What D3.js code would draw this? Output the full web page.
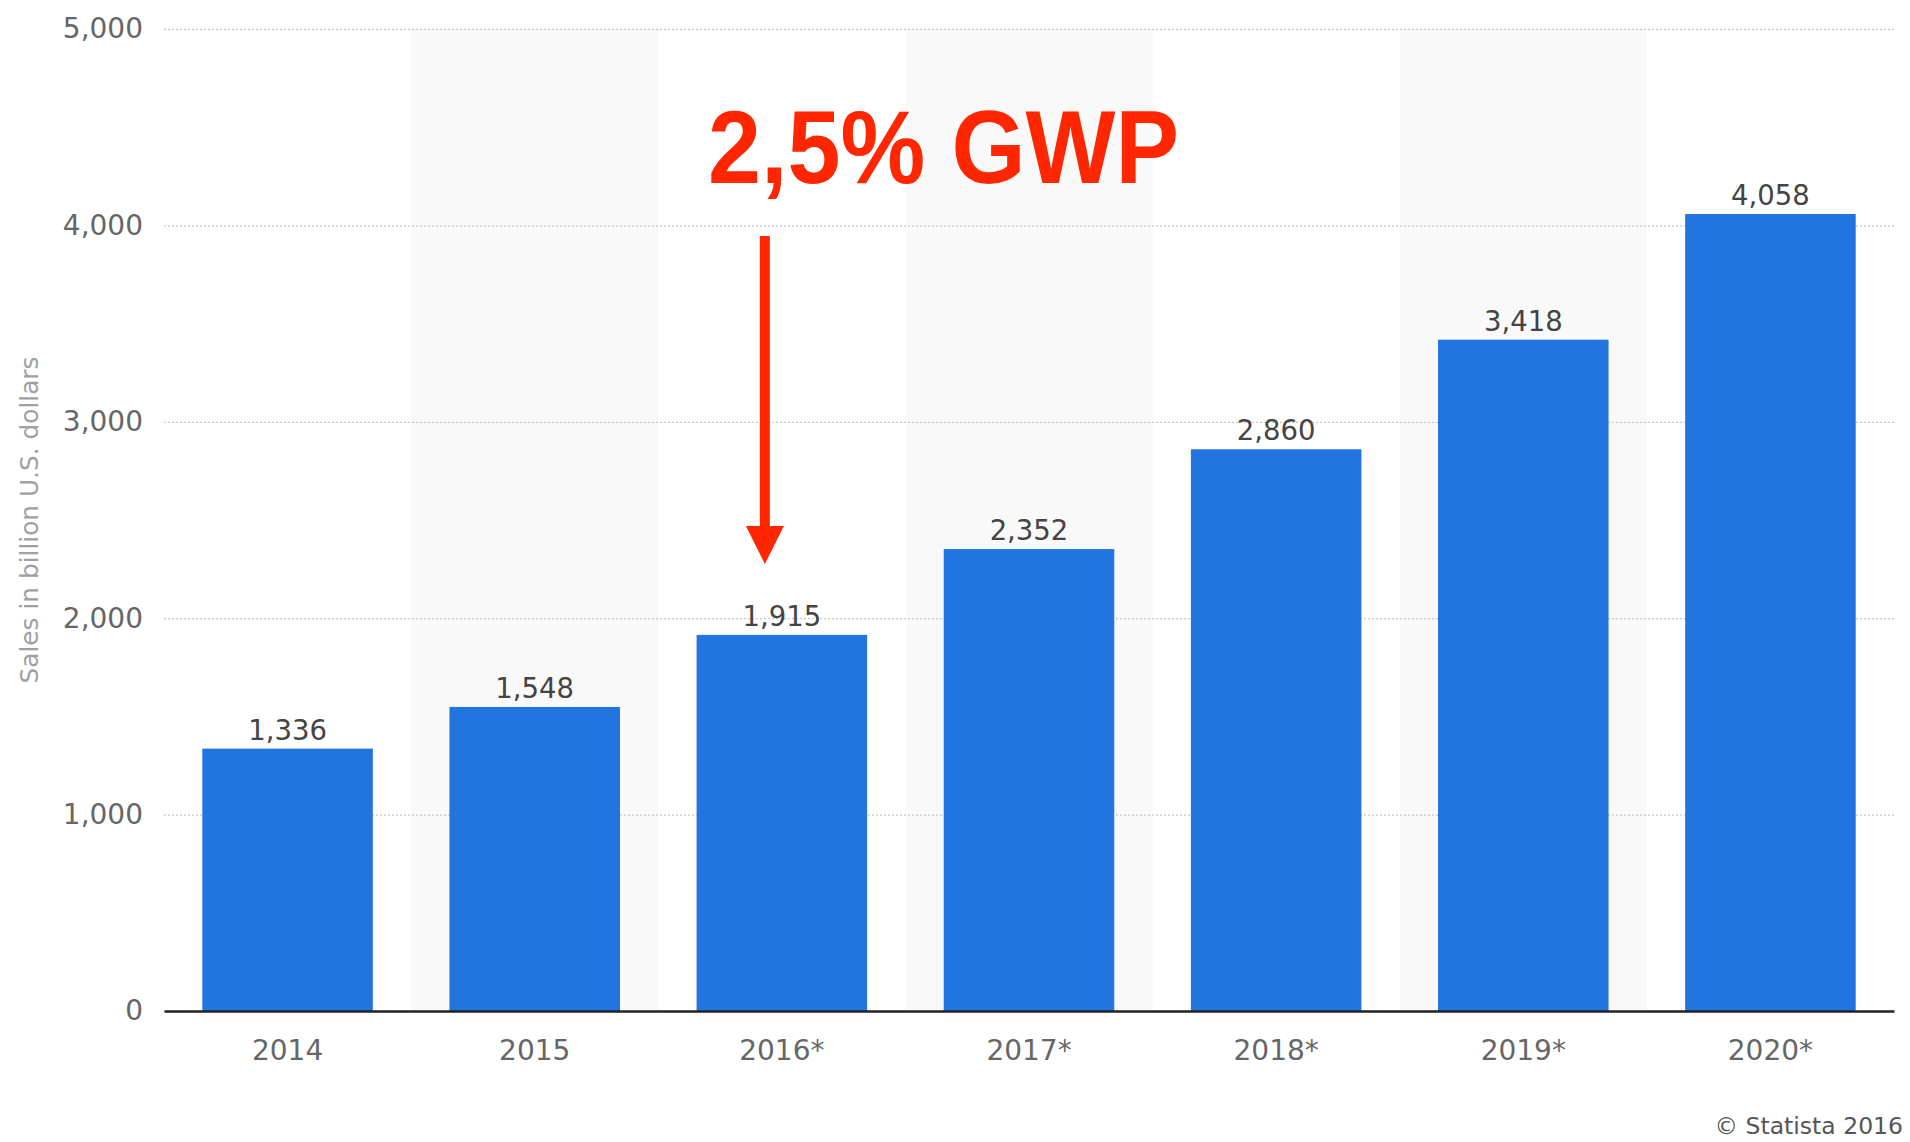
<!DOCTYPE html>
<html>
<head>
<meta charset="utf-8">
<script src="https://cdn.jsdelivr.net/npm/d3@7"></script>
<style>
  body { margin: 0; background: #fff; }
</style>
</head>
<body>
<div id="chart"></div>
<script>
var years = ["2014", "2015", "2016*", "2017*", "2018*", "2019*", "2020*"];
var sales = [1336, 1548, 1915, 2352, 2860, 3418, 4058];
var yTicks = [0, 1000, 2000, 3000, 4000, 5000];

var width = 1910;
var height = 1142;
var margin = { top: 29, bottom: 131, right: 16, left: 164 };
var font = "DejaVu Sans, Verdana, sans-serif";

var svg = d3.select("#chart")
  .append("svg")
  .attr("width", width)
  .attr("height", height)
  .attr("font-family", font);

var xScale = d3.scaleBand()
  .domain(years)
  .range([margin.left, width - margin.right])
  .paddingInner(0.31)
  .paddingOuter(0.155);

var yScale = d3.scaleLinear()
  .domain([0, 5000])
  .range([height - margin.bottom, margin.top]);

// alternating light stripes
var step = xScale.step();
svg.append("g")
  .selectAll("rect")
  .data(years.filter(function(d, i) { return i % 2 == 1; }))
  .enter()
  .append("rect")
  .attr("x", function(d) { return xScale(d) - xScale.paddingInner() * step / 2; })
  .attr("y", yScale(5000))
  .attr("width", step)
  .attr("height", yScale(0) - yScale(5000))
  .attr("fill", "#f9f9f9");

// gridlines + y labels
var axisy = d3.axisLeft(yScale)
  .tickValues(yTicks)
  .tickSize(-(width - margin.right - margin.left))
  .tickPadding(21)
  .tickFormat(d3.format(","));

var gy = svg.append("g")
  .attr("transform", "translate(" + margin.left + ",0)")
  .call(axisy);
gy.select(".domain").remove();
gy.selectAll(".tick line")
  .attr("stroke", "#c8c8c8")
  .attr("stroke-width", 1.3)
  .attr("stroke-dasharray", "2,2");
gy.selectAll(".tick text")
  .attr("fill", "#666")
  .attr("font-size", "28px")
  .attr("font-family", font);
gy.selectAll(".tick").filter(function(d) { return d == 0; }).select("line").remove();

// bars
svg.append("g")
  .selectAll("rect")
  .data(sales)
  .enter()
  .append("rect")
  .attr("x", function(d, i) { return xScale(years[i]); })
  .attr("y", function(d) { return yScale(d); })
  .attr("width", xScale.bandwidth())
  .attr("height", function(d) { return yScale(0) - yScale(d); })
  .attr("fill", "#2274de");

// value labels
svg.append("g")
  .selectAll("text")
  .data(sales)
  .enter()
  .append("text")
  .attr("x", function(d, i) { return xScale(years[i]) + xScale.bandwidth() / 2; })
  .attr("y", function(d) { return yScale(d) - 9; })
  .attr("text-anchor", "middle")
  .attr("font-size", "27.5px")
  .attr("fill", "#444")
  .text(function(d) { return d3.format(",")(d); });

// x axis
var axisx = d3.axisBottom(xScale).tickSize(0).tickPadding(29);
var gx = svg.append("g")
  .attr("transform", "translate(0," + yScale(0) + ")")
  .call(axisx);
gx.select(".domain").attr("stroke", "#222").attr("stroke-width", 2.5);
gx.selectAll(".tick text")
  .attr("fill", "#666")
  .attr("font-size", "28px")
  .attr("font-family", font);

// y axis title
svg.append("text")
  .attr("transform", "translate(38,520) rotate(-90)")
  .attr("text-anchor", "middle")
  .attr("font-size", "24.8px")
  .attr("fill", "#a0a0a0")
  .text("Sales in billion U.S. dollars");

// credit
svg.append("text")
  .attr("x", width - 7)
  .attr("y", 1134)
  .attr("text-anchor", "end")
  .attr("font-size", "23.5px")
  .attr("fill", "#555")
  .text("\u00a9 Statista 2016");

// annotation
var red = "#ff2600";
var ax = xScale("2016*") + xScale.bandwidth() / 2 - 17;
svg.append("text")
  .attr("x", 708)
  .attr("y", 183)
  .style("font-family", "'Liberation Sans', Arial, sans-serif")
  .style("font-weight", "bold")
  .style("font-size", "104px")
  .attr("textLength", 471)
  .attr("lengthAdjust", "spacingAndGlyphs")
  .attr("fill", red)
  .text("2,5% GWP");

svg.append("line")
  .attr("x1", ax).attr("x2", ax)
  .attr("y1", 236).attr("y2", 530)
  .attr("stroke", red)
  .attr("stroke-width", 10);

svg.append("path")
  .attr("d", "M" + (ax - 19) + ",526 L" + (ax + 19) + ",526 L" + ax + ",564 Z")
  .attr("fill", red);
</script>
</body>
</html>
